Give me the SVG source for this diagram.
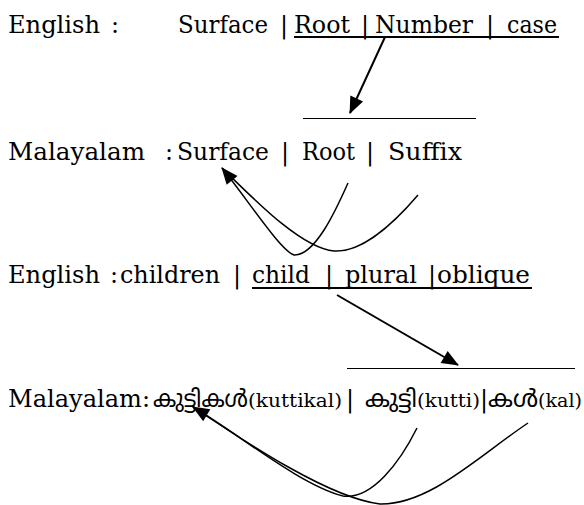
<svg xmlns="http://www.w3.org/2000/svg" width="584" height="505" viewBox="0 0 584 505">
<style>
  .t { font-family: "DejaVu Serif", "Liberation Serif", serif; font-size: 24px; fill: #000; }
  .s { font-family: "DejaVu Serif", "Liberation Serif", serif; font-size: 19px; fill: #000; }
  .ml { font-family: "Noto Sans Malayalam", "Noto Serif Malayalam", "Noto Sans", sans-serif; font-size: 24px; fill: #000; }
  .ul { stroke: #000; stroke-width: 2; fill: none; }
  .hl { stroke: #000; stroke-width: 1.2; fill: none; }
  .arr { stroke: #000; stroke-width: 2; fill: none; }
  .crv { stroke: #000; stroke-width: 1.5; fill: none; }
</style>
<defs>
  <marker id="ah" markerUnits="userSpaceOnUse" markerWidth="18" markerHeight="14" refX="16" refY="7" orient="auto" overflow="visible">
    <path d="M0,0 L17,7 L0,14 z" fill="#000"/>
  </marker>
</defs>
<rect width="584" height="505" fill="#fff"/>

<g id="row1-english">
  <text class="t" x="8" y="33" textLength="92" lengthAdjust="spacingAndGlyphs">English</text>
  <text class="t" x="111" y="33">:</text>
  <text class="t" x="178" y="33" textLength="90" lengthAdjust="spacingAndGlyphs">Surface</text>
  <text class="t" x="280" y="33">|</text>
  <text class="t" x="294" y="33" textLength="56" lengthAdjust="spacingAndGlyphs">Root</text>
  <text class="t" x="361" y="33">|</text>
  <text class="t" x="375" y="33" textLength="98" lengthAdjust="spacingAndGlyphs">Number</text>
  <text class="t" x="486" y="33">|</text>
  <text class="t" x="507" y="33" textLength="50" lengthAdjust="spacingAndGlyphs">case</text>
  <line class="ul" x1="294" y1="37" x2="559" y2="37"/>
  <line class="hl" x1="303" y1="118.5" x2="476" y2="118.5"/>
</g>

<g id="row2-malayalam">
  <text class="t" x="8" y="160" textLength="137" lengthAdjust="spacingAndGlyphs">Malayalam</text>
  <text class="t" x="165" y="160">:</text>
  <text class="t" x="177" y="160" textLength="92" lengthAdjust="spacingAndGlyphs">Surface</text>
  <text class="t" x="281" y="160">|</text>
  <text class="t" x="302" y="160" textLength="53" lengthAdjust="spacingAndGlyphs">Root</text>
  <text class="t" x="366" y="160">|</text>
  <text class="t" x="388" y="160" textLength="74" lengthAdjust="spacingAndGlyphs">Suffix</text>
</g>

<g id="row3-english">
  <text class="t" x="8" y="283" textLength="92" lengthAdjust="spacingAndGlyphs">English</text>
  <text class="t" x="110" y="283">:</text>
  <text class="t" x="120" y="283" textLength="100" lengthAdjust="spacingAndGlyphs">children</text>
  <text class="t" x="233" y="283">|</text>
  <text class="t" x="252" y="283" textLength="58" lengthAdjust="spacingAndGlyphs">child</text>
  <text class="t" x="325" y="283">|</text>
  <text class="t" x="345" y="283" textLength="72" lengthAdjust="spacingAndGlyphs">plural</text>
  <text class="t" x="428" y="283">|</text>
  <text class="t" x="437" y="283" textLength="93" lengthAdjust="spacingAndGlyphs">oblique</text>
  <line class="ul" x1="252" y1="288" x2="532" y2="288"/>
  <line class="hl" x1="347" y1="368.5" x2="575" y2="368.5"/>
</g>

<g id="row4-malayalam">
  <text class="t" x="8" y="407" textLength="142" lengthAdjust="spacingAndGlyphs">Malayalam:</text>
  <text class="ml" x="153" y="407" textLength="95" lengthAdjust="spacingAndGlyphs">കുട്ടികൾ</text>
  <text class="s" x="248" y="407" textLength="94" lengthAdjust="spacingAndGlyphs">(kuttikal)</text>
  <text class="t" x="346" y="407">|</text>
  <text class="ml" x="365" y="407" textLength="52" lengthAdjust="spacingAndGlyphs">കുട്ടി</text>
  <text class="s" x="417" y="407" textLength="63" lengthAdjust="spacingAndGlyphs">(kutti)</text>
  <text class="t" x="480" y="407">|</text>
  <text class="ml" x="488" y="407" textLength="50" lengthAdjust="spacingAndGlyphs">കൾ</text>
  <text class="s" x="538" y="407" textLength="44" lengthAdjust="spacingAndGlyphs">(kal)</text>
</g>

<g id="connectors">
  <line class="arr" x1="385" y1="37" x2="350" y2="113" marker-end="url(#ah)"/>
  <path class="crv" d="M348,183 C336,210 315,256 294,255 C280,250 248,200 222,168" marker-end="url(#ah)"/>
  <path class="crv" d="M418,195 C395,222 362,253 334,251 C300,248 250,195 222,168"/>
  <line class="arr" x1="337" y1="295" x2="458" y2="365" marker-end="url(#ah)"/>
  <path class="crv" d="M417,428 C400,462 372,500 343,496 C300,485 240,435 193,407" marker-end="url(#ah)"/>
  <path class="crv" d="M528,423 C480,455 430,505 380,504 C330,498 250,445 193,407"/>
</g>
</svg>
